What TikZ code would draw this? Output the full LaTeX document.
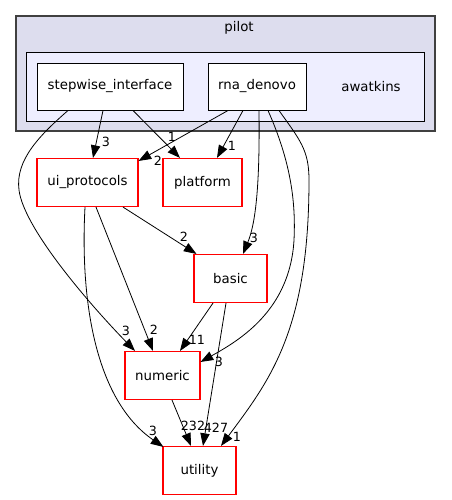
\documentclass[tikz,border=0pt]{standalone}
\usepackage{fontspec}
\setmainfont{DejaVu Sans}
\usetikzlibrary{arrows.meta,calc}
\definecolor{pilotfill}{HTML}{DDDDEE}
\definecolor{pilotline}{HTML}{404040}
\definecolor{awfill}{HTML}{EEEEFF}
\tikzset{
  dirbox/.style={draw=red,fill=white,line width=0.85pt,inner sep=0pt,minimum height=36pt,
    font=\fontsize{10}{12}\selectfont},
  subdir/.style={draw=black,fill=white,line width=0.75pt,inner sep=0pt,minimum height=35.25pt,
    font=\fontsize{10}{12}\selectfont},
  dep/.style={-{Triangle[length=9.5pt,width=7pt]},semithick},
  lbl/.style={inner sep=0pt,font=\fontsize{9.5}{11}\selectfont}
}
\begin{document}
\begin{tikzpicture}[x=0.75pt,y=-0.75pt]
  \useasboundingbox (0,0) rectangle (451,500);

  % Clusters
  \draw[pilotline,line width=1pt,fill=pilotfill] (16,16) rectangle (435,131);
  \node[font=\fontsize{10}{12}\selectfont] (pilotlbl) at (239,28) {pilot};
  \draw[black,line width=0.75pt,fill=awfill] (26,52) rectangle (424,121);
  \node[font=\fontsize{10}{12}\selectfont] (awlbl) at (371,86.5) {awatkins};

  % Directories
  \node[subdir,minimum width=109.5pt] (stepwise) at (110,86.5) {stepwise\_interface};
  \node[subdir,minimum width=73.5pt] (rnadenovo) at (257,86.5) {rna\_denovo};
  \node[dirbox,minimum width=75.75pt] (uiprot) at (87.5,182.5) {ui\_protocols};
  \node[dirbox,minimum width=59.25pt] (platform) at (202.5,182.5) {platform};
  \node[dirbox,minimum width=54.75pt] (basic) at (230.5,278.5) {basic};
  \node[dirbox,minimum width=56.25pt] (numeric) at (162.5,375.5) {numeric};
  \node[dirbox,minimum width=54.75pt] (utility) at (199.5,470.5) {utility};

  % Dependencies of stepwise_interface
  \draw[dep] ($(stepwise.south)+(-7,0)$) -- ($(uiprot.north)+(5.5,0)$)
    node[lbl] at (106,142) {3};
  \draw[dep] ($(stepwise.south)+(23,0)$) -- ($(platform.north)+(-22.5,0)$)
    node[lbl] at (172,137) {1};
  \draw[dep] ($(stepwise.south)+(-42,0)$) .. controls (40,135) and (15,160) .. (19,190)
    .. controls (24,230) and (95,310) .. ($(numeric.north)+(-27.5,0)$)
    node[lbl] at (126,331) {3};

  % Dependencies of rna_denovo
  \draw[dep] ($(rnadenovo.south)+(-29,0)$) -- ($(uiprot.north east)+(0,3)$)
    node[lbl] at (158,161) {2};
  \draw[dep] ($(rnadenovo.south)+(-14,0)$) -- ($(platform.north)+(14.5,0)$)
    node[lbl] at (232,146) {1};
  \draw[dep] ($(rnadenovo.south)+(2,0)$) .. controls (260,190) and (255,225)
    .. ($(basic.north)+(12.5,0)$)
    node[lbl] at (254,238) {3};
  \draw[dep] ($(rnadenovo.south)+(11,0)$) .. controls (290,160) and (296,200) .. (294,240)
    .. controls (290,310) and (240,340) .. ($(numeric.north east)+(0,11)$)
    node[lbl] at (219,362) {3};
  \draw[dep] ($(rnadenovo.south)+(22,0)$) .. controls (300,140) and (309,150) .. (309,180)
    .. controls (309,330) and (270,380) .. ($(utility.north)+(21.5,0)$)
    node[lbl] at (237,437) {1};

  % Dependencies of ui_protocols
  \draw[dep] ($(uiprot.south)+(35.5,0)$) -- ($(basic.north)+(-34,0)$)
    node[lbl] at (184,237) {2};
  \draw[dep] ($(uiprot.south)+(8.5,0)$) -- ($(numeric.north)+(-9.5,0)$)
    node[lbl] at (154,330) {2};
  \draw[dep] ($(uiprot.south)+(-2.5,0)$) .. controls (80,300) and (95,400)
    .. ($(utility.north west)+(1,1)$)
    node[lbl] at (153,431) {3};

  % Dependencies of basic and numeric
  \draw[dep] ($(basic.south)+(-17.5,0)$) -- ($(numeric.north)+(17.5,0)$)
    node[lbl] at (197,340) {11};
  \draw[dep] ($(basic.south)+(-4.5,0)$) -- ($(utility.north)+(3.5,0)$)
    node[lbl] at (216,428) {427};
  \draw[dep] ($(numeric.south)+(9.5,0)$) -- ($(utility.north)+(-8.5,0)$)
    node[lbl] at (193,426) {232};
\end{tikzpicture}
\end{document}
